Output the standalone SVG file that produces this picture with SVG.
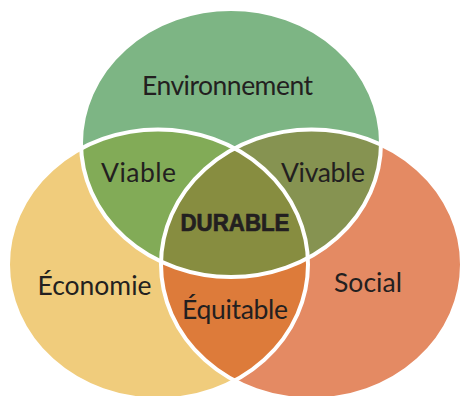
<svg xmlns="http://www.w3.org/2000/svg" width="461" height="396" viewBox="0 0 461 396">
  <style>
    .lbl { font-family: Lato, "Liberation Sans", sans-serif; font-size: 26.5px; fill: #231f20; }
    .big { font-family: "Liberation Sans", Arial, sans-serif; font-size: 23.5px; font-weight: bold; fill: #231f20; stroke: #231f20; stroke-width: 0.7; stroke-linejoin: round; }
    .ring { fill: none; stroke: #ffffff; stroke-width: 4; }
  </style>
  <defs>
    <ellipse id="eG" cx="231" cy="143" rx="150" ry="134"/>
    <ellipse id="eY" cx="158" cy="264.5" rx="150" ry="135"/>
    <ellipse id="eO" cx="311.5" cy="264.5" rx="150.5" ry="135"/>
    <clipPath id="cG"><use href="#eG"/></clipPath>
    <clipPath id="cY"><use href="#eY"/></clipPath>
    <clipPath id="cO"><use href="#eO"/></clipPath>
  </defs>
  <rect width="461" height="396" fill="#ffffff"/>
  <g id="environnement">
    <use href="#eG" fill="#7db584"/>
    <text class="lbl" x="142" y="95.3" textLength="171">Environnement</text>
  </g>
  <g id="economie">
    <use href="#eY" fill="#f0cc7c"/>
    <text class="lbl" x="37.5" y="295" textLength="114">Économie</text>
  </g>
  <g id="social">
    <use href="#eO" fill="#e48a63"/>
    <text class="lbl" x="334" y="291.7" textLength="68">Social</text>
  </g>
  <g id="viable">
    <use href="#eY" fill="#82ab57" clip-path="url(#cG)"/>
  </g>
  <g id="vivable">
    <use href="#eO" fill="#869351" clip-path="url(#cG)"/>
  </g>
  <g id="equitable">
    <use href="#eO" fill="#dd7b3a" clip-path="url(#cY)"/>
  </g>
  <g id="durable">
    <g clip-path="url(#cY)">
      <use href="#eO" fill="#878d40" clip-path="url(#cG)"/>
    </g>
  </g>
  <g id="outlines">
    <use href="#eG" class="ring"/>
    <use href="#eY" class="ring"/>
    <use href="#eO" class="ring"/>
  </g>
  <g id="labels">
    <text class="lbl" x="101" y="181.7" textLength="75">Viable</text>
    <text class="lbl" x="281" y="181.7" textLength="84">Vivable</text>
    <text class="big" x="180.5" y="230.5" textLength="109" lengthAdjust="spacingAndGlyphs">DURABLE</text>
    <text class="lbl" x="182" y="319.3" textLength="106">Équitable</text>
  </g>
</svg>
